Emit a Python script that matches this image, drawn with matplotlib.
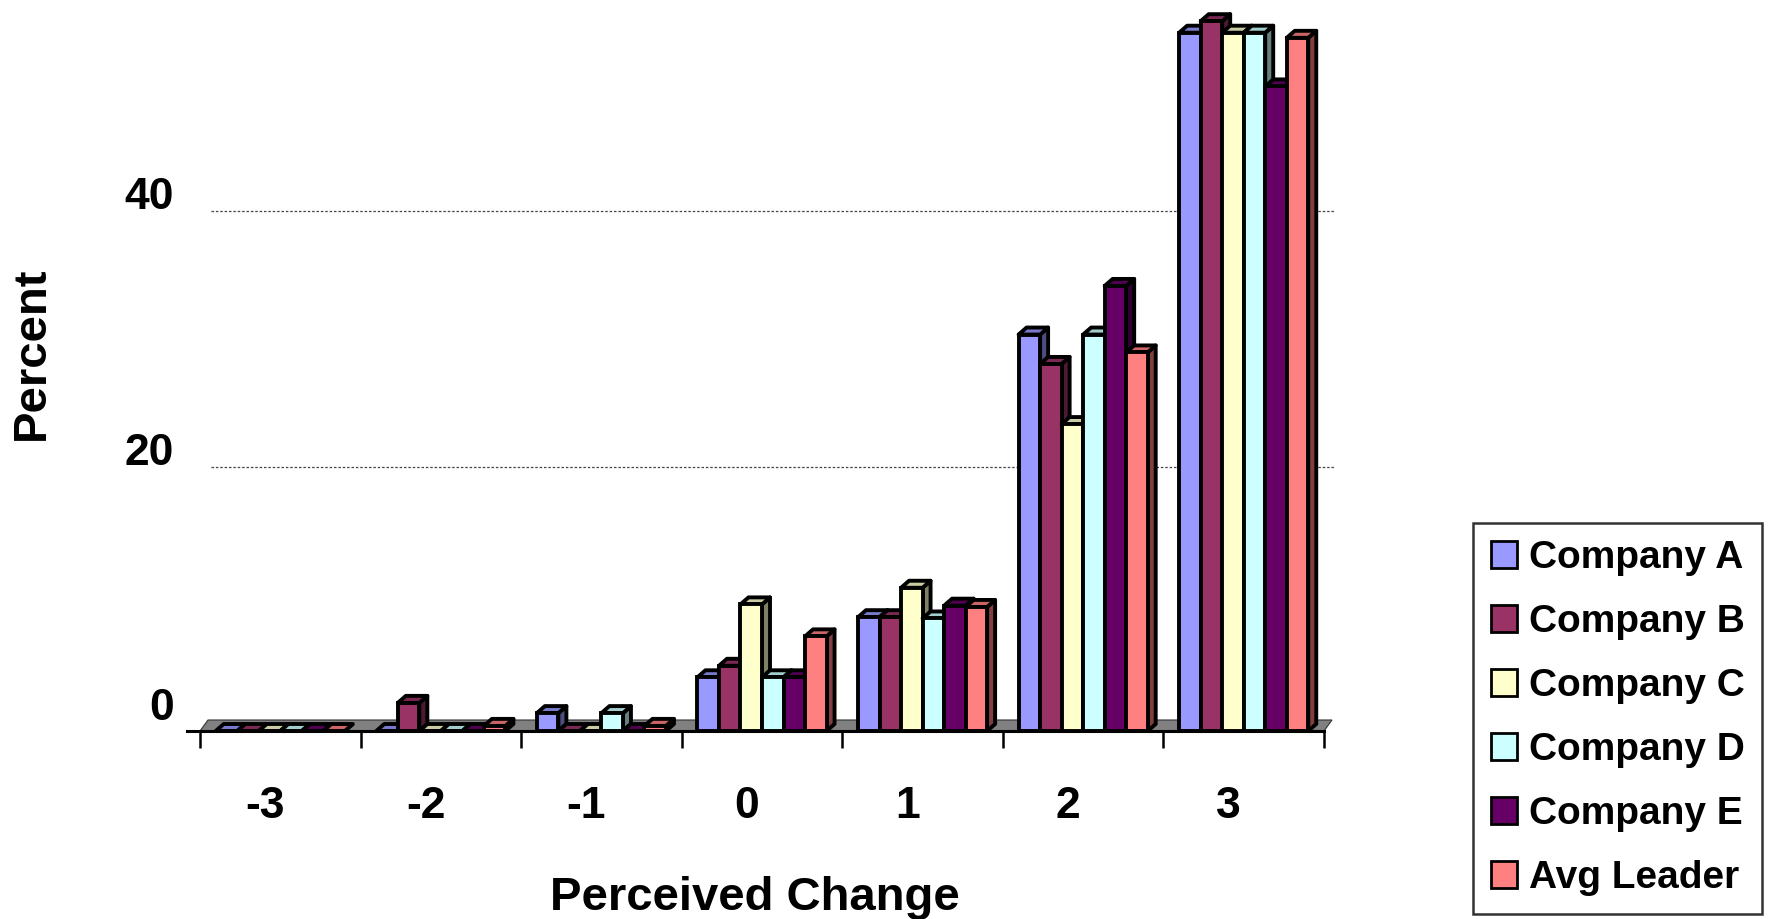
import matplotlib.pyplot as plt
import numpy as np
from matplotlib.patches import Polygon, Patch
from matplotlib.transforms import ScaledTranslation, blended_transform_factory
from matplotlib.colors import to_rgb

plt.rcParams['font.family'] = ['Liberation Sans', 'DejaVu Sans']
plt.rcParams['font.weight'] = 'bold'

# data (percent of answers per perceived change)
categories = ['-3', '-2', '-1', '0', '1', '2', '3']
series_names = ['Company A', 'Company B', 'Company C', 'Company D', 'Company E', 'Avg Leader']
company_a = [0, 0, 1.4, 4.2, 8.9, 31.0, 54.6]
company_b = [0, 2.2, 0, 5.1, 8.9, 28.7, 55.5]
company_c = [0, 0, 0, 9.9, 11.2, 24.0, 54.6]
company_d = [0, 0, 1.4, 4.2, 8.8, 31.0, 54.6]
company_e = [0, 0, 0, 4.2, 9.8, 34.8, 50.4]
avg_leader = [0, 0.4, 0.4, 7.4, 9.7, 29.6, 54.2]
yticks = [0, 20, 40]

colors = ['#9999FF', '#993366', '#FFFFCC', '#CCFFFF', '#660066', '#FF8080']
series = [company_a, company_b, company_c, company_d, company_e, avg_leader]

W, H = 1779, 919
fig = plt.figure(figsize=(W / 100, H / 100), dpi=100)
ax = fig.add_axes([187 / W, (H - 731) / H, (1324 - 187) / W, 729 / H])
xmin, xmax = -0.5 - 13 / 160.5, len(categories) - 0.5
ymax = 57
ax.set_xlim(xmin, xmax)
ax.set_ylim(0, ymax)

# pixel -> data helpers for the fake 3d depth
px_x = (xmax - xmin) / (1324 - 187)
px_y = ymax / 729.0


def shade(c, f):
    r, g, b = to_rgb(c)
    return (r * f, g * f, b * f)


def px_off(dx, dy):
    return ScaledTranslation(dx / 100, dy / 100, fig.dpi_scale_trans)


# gridlines on the back wall
for v in yticks[1:]:
    ax.hlines(v, -0.5, xmax, colors='#444444', linestyles=(0, (2, 1.5)), lw=0.9,
              transform=ax.transData + px_off(11, 8), zorder=0.5, clip_on=False)

# floor
fdx, fdy = 8 * px_x, 11 * px_y
floor = Polygon([(-0.5, 0), (xmax, 0), (xmax + fdx, fdy), (-0.5 + fdx, fdy)],
                closed=True, facecolor='#808080', edgecolor='#333333', lw=0.8,
                zorder=1, clip_on=False)
ax.add_patch(floor)

n = len(series)
w = 0.134
bdx, bdy = 8 * px_x, 7 * px_y
edge_lw = 2.8
xc = np.arange(len(categories))
for j, (vals, col) in enumerate(zip(series, colors)):
    xs = xc + (j - (n - 1) / 2) * w
    z = 3 + j * 0.1
    ax.bar(xs, vals, width=w, color=col, edgecolor='black', linewidth=edge_lw,
           zorder=z + 0.05, clip_on=False)
    for x, h in zip(xs, vals):
        x0, x1 = x - w / 2, x + w / 2
        top = Polygon([(x0, h), (x1, h), (x1 + bdx, h + bdy), (x0 + bdx, h + bdy)],
                      closed=True, facecolor=shade(col, 0.8), edgecolor='black',
                      lw=edge_lw, joinstyle='round', zorder=z, clip_on=False)
        side = Polygon([(x1, 0), (x1, h), (x1 + bdx, h + bdy), (x1 + bdx, bdy)],
                       closed=True, facecolor=shade(col, 0.5), edgecolor='black',
                       lw=edge_lw, joinstyle='round', zorder=z, clip_on=False)
        ax.add_patch(side)
        ax.add_patch(top)

# axes styling
for s in ['top', 'right', 'left']:
    ax.spines[s].set_visible(False)
ax.spines['bottom'].set_linewidth(2.2)
ax.spines['bottom'].set_zorder(2)
ax.set_xticks(np.arange(len(categories) + 1) - 0.5)
ax.set_xticklabels([])
ax.tick_params(axis='x', direction='out', length=12.5, width=1.8, color='black')
ax.set_yticks([])
ax.patch.set_visible(False)

# category labels
tr_x = blended_transform_factory(ax.transData, ax.transAxes) + px_off(-15, -75)
for i, c in enumerate(categories):
    ax.text(i, 0, c, transform=tr_x, ha='center', va='center', fontsize=32,
            fontweight='bold')

# value labels (drawn a bit above the front plane, as in the original)
tr_y = blended_transform_factory(ax.transAxes, ax.transData) + px_off(-13, 22)
for v in yticks:
    ax.text(0, v, str(v), transform=tr_y, ha='right', va='center', fontsize=32,
            fontweight='bold')

fig.text(32 / W, 1 - 353 / H, 'Percent', rotation=90, ha='center', va='center',
         fontsize=34, fontweight='bold')
fig.text(755 / W, 1 - 898 / H, 'Perceived Change', ha='center', va='center',
         fontsize=34, fontweight='bold')

handles = [Patch(facecolor=c, edgecolor='black', lw=2.0) for c in colors]
leg = fig.legend(handles, series_names, loc='lower left',
                 bbox_to_anchor=(1473 / W, 5 / H), bbox_transform=fig.transFigure,
                 fontsize=28, frameon=True, fancybox=False, borderpad=0.45,
                 labelspacing=0.72, handlelength=0.69, handleheight=0.69,
                 handletextpad=0.3, borderaxespad=0)
leg.get_frame().set_edgecolor('black')
leg.get_frame().set_linewidth(1.8)
for t in leg.get_texts():
    t.set_fontweight('bold')

fig.savefig('out.png', dpi=100)
